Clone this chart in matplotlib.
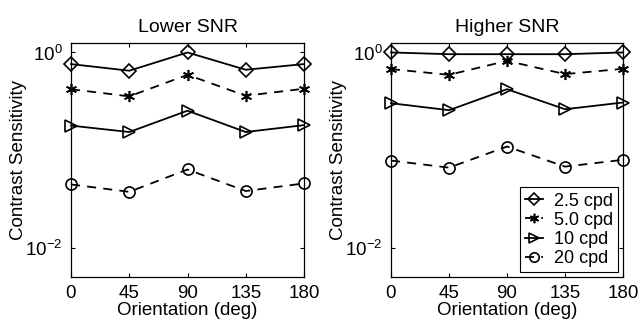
import matplotlib
matplotlib.use("Agg")
import matplotlib.pyplot as plt
from matplotlib.ticker import FixedLocator, NullLocator, FixedFormatter

plt.rcParams['font.family'] = ['Liberation Sans', 'DejaVu Sans']
plt.rcParams['mathtext.fontset'] = 'custom'
plt.rcParams['mathtext.rm'] = 'Liberation Sans'
plt.rcParams['mathtext.it'] = 'Liberation Sans:italic'

orientation = [0, 45, 90, 135, 180]
series_labels = ['2.5 cpd', '5.0 cpd', '10 cpd', '20 cpd']
titles = ['Lower SNR', 'Higher SNR']

lower_snr = {
    '2.5 cpd': [0.76, 0.65, 1.0, 0.665, 0.76],
    '5.0 cpd': [0.42, 0.355, 0.59, 0.36, 0.425],
    '10 cpd': [0.178, 0.153, 0.253, 0.153, 0.18],
    '20 cpd': [0.0444, 0.0373, 0.0632, 0.038, 0.0455],
}
higher_snr = {
    '2.5 cpd': [1.0, 0.96, 0.96, 0.96, 1.0],
    '5.0 cpd': [0.675, 0.59, 0.82, 0.60, 0.68],
    '10 cpd': [0.302, 0.256, 0.42, 0.262, 0.307],
    '20 cpd': [0.078, 0.066, 0.1086, 0.0676, 0.0794],
}

styles = {
    '2.5 cpd': dict(marker='D', linestyle='-', markersize=7),
    '5.0 cpd': dict(marker=(6, 2, 0), linestyle='--', markersize=8),
    '10 cpd': dict(marker='>', linestyle='-', markersize=9),
    '20 cpd': dict(marker='o', linestyle='--', markersize=8),
}

fig = plt.figure(figsize=(6.41, 3.21), dpi=100)
positions = [[71/641, 44/321, 233/641, 234/321],
             [391/641, 44/321, 232/641, 234/321]]

for i, (data, title) in enumerate(zip([lower_snr, higher_snr], titles)):
    ax = fig.add_axes(positions[i])
    for lab in series_labels:
        st = styles[lab]
        ax.plot(orientation, data[lab], color='black', linewidth=1.3,
                marker=st['marker'], linestyle=st['linestyle'],
                markersize=st['markersize'], markerfacecolor='none',
                markeredgecolor='black', markeredgewidth=1.2,
                dashes=(5, 4) if st['linestyle'] == '--' else (None, None),
                label=lab, clip_on=False)
    ax.set_yscale('log')
    ax.set_ylim(0.005, 1.25)
    ax.set_xlim(0, 180)
    ax.xaxis.set_major_locator(FixedLocator(orientation))
    ax.yaxis.set_major_locator(FixedLocator([0.01, 1.0]))
    ax.yaxis.set_major_formatter(FixedFormatter([r'$10^{-2}$', r'$10^{0}$']))
    ax.yaxis.set_minor_locator(NullLocator())
    ax.tick_params(direction='in', length=3, width=0.8, top=True, right=True,
                   labelsize=13.5, pad=6)
    for sp in ax.spines.values():
        sp.set_linewidth(0.9)
    ax.set_title(title, fontsize=14, pad=8)
    ax.set_xlabel('Orientation (deg)', fontsize=13.5, labelpad=0)
    ax.set_ylabel('Contrast Sensitivity', fontsize=13.5, labelpad=-1)
    if i == 1:
        leg = ax.legend(loc='lower right', fontsize=13, handlelength=1.0,
                        handletextpad=0.6, borderaxespad=0.25, labelspacing=0.12,
                        fancybox=False, edgecolor='black', framealpha=1,
                        borderpad=0.3, markerscale=0.85)
        leg.get_frame().set_linewidth(0.8)

fig.savefig('out.png', dpi=100)
